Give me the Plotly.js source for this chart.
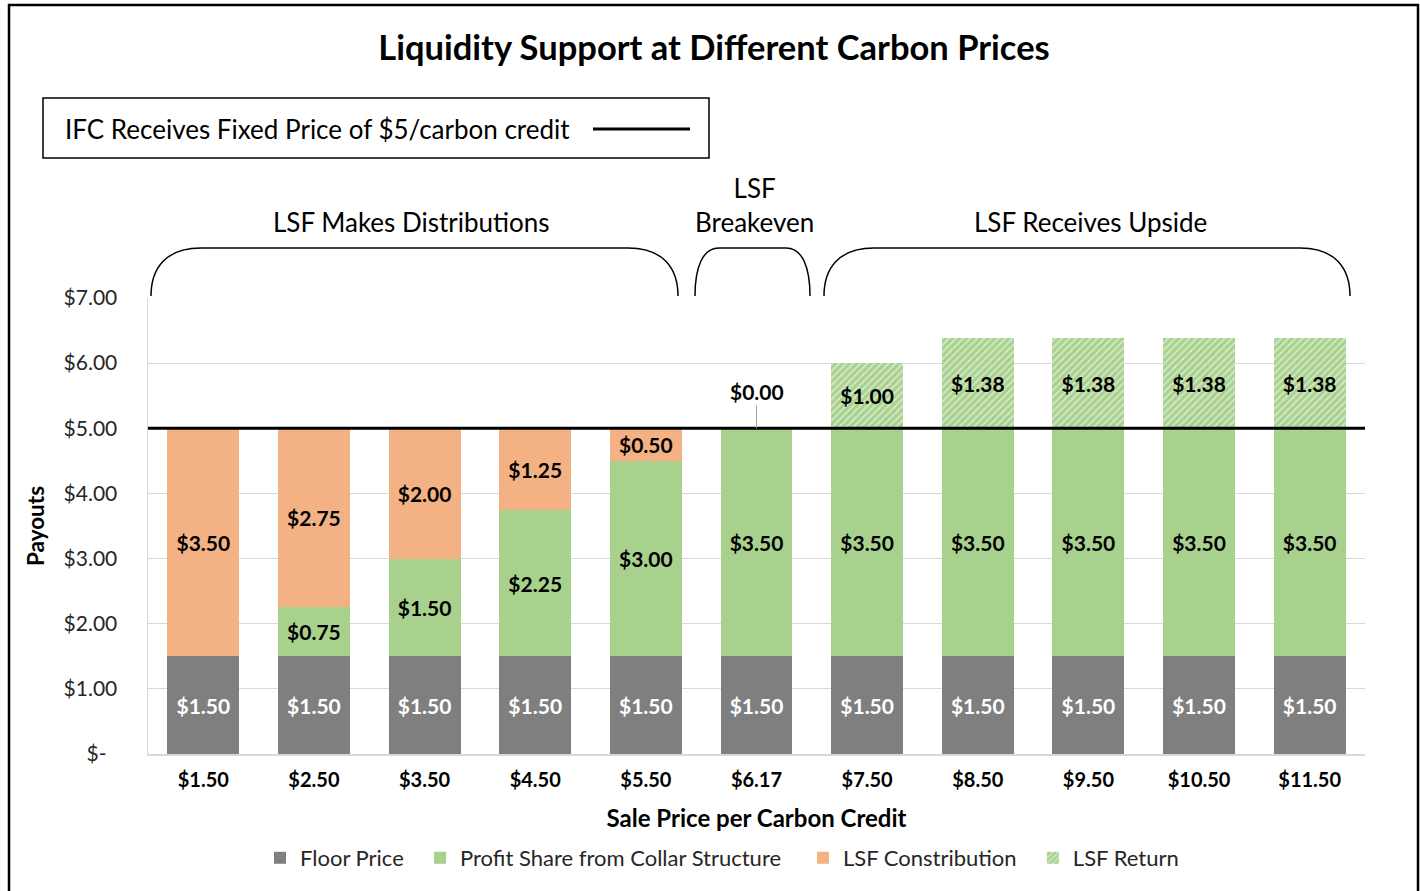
<!DOCTYPE html>
<html>
<head>
<meta charset="utf-8">
<script src="https://cdn.plot.ly/plotly-3.0.1.min.js"></script>
<style>
  html, body { margin: 0; padding: 0; background: #ffffff; }
  #chart { width: 1420px; height: 891px; }
</style>
</head>
<body>
<div id="chart"></div>
<script>
// ---- data ----
const categories = ["$1.50", "$2.50", "$3.50", "$4.50", "$5.50", "$6.17", "$7.50", "$8.50", "$9.50", "$10.50", "$11.50"];
const floorPrice   = [1.50, 1.50, 1.50, 1.50, 1.50, 1.50, 1.50, 1.50, 1.50, 1.50, 1.50];
const profitShare  = [0.00, 0.75, 1.50, 2.25, 3.00, 3.50, 3.50, 3.50, 3.50, 3.50, 3.50];
const lsfContrib   = [3.50, 2.75, 2.00, 1.25, 0.50, 0.00, 0.00, 0.00, 0.00, 0.00, 0.00];
const lsfReturn    = [0.00, 0.00, 0.00, 0.00, 0.00, 0.00, 1.00, 1.38, 1.38, 1.38, 1.38];
const seriesNames  = ["Floor Price", "Profit Share from Collar Structure", "LSF Constribution", "LSF Return"];
const yTickVals    = [0, 1, 2, 3, 4, 5, 6, 7];
const yTickText    = ["$-\u00a0\u00a0", "$1.00", "$2.00", "$3.00", "$4.00", "$5.00", "$6.00", "$7.00"];
const ifcFixedPrice = 5;
const breakevenIndex = 5;

// ---- helpers ----
const FONT = "Lato, 'Open Sans', sans-serif";
const L = 148, R = 1365, T = 298, B = 754;
const px = x => (x - L) / (R - L);
const py = y => (B - y) / (B - T);
const money = v => "$" + v.toFixed(2);
const lbl = arr => arr.map(v => v > 0 ? money(v) : "");
const pad = n => "\u00a0".repeat(n);

const COL_GRAY = "#7f7f7f", COL_GREEN = "#a9d18e", COL_ORANGE = "#f4b183";
const LABEL_FONT = c => ({ family: FONT, size: 21, color: c, weight: "bold" });

const common = {
  type: "bar", x: categories, textposition: "inside", insidetextanchor: "middle",
  textangle: 0, constraintext: "none", hoverinfo: "skip", cliponaxis: false
};

const traces = [
  Object.assign({}, common, {
    name: seriesNames[0] + pad(2), y: floorPrice, text: lbl(floorPrice),
    marker: { color: COL_GRAY }, textfont: LABEL_FONT("#ffffff")
  }),
  Object.assign({}, common, {
    name: seriesNames[1] + pad(3), y: profitShare, text: lbl(profitShare),
    marker: { color: COL_GREEN }, textfont: LABEL_FONT("#000000")
  }),
  Object.assign({}, common, {
    name: seriesNames[2] + pad(2), y: lsfContrib, text: lbl(lsfContrib),
    marker: { color: COL_ORANGE }, textfont: LABEL_FONT("#000000")
  }),
  Object.assign({}, common, {
    name: seriesNames[3], y: lsfReturn, text: lbl(lsfReturn),
    marker: { color: COL_GREEN, pattern: { shape: "/", fgcolor: "#ffffff", bgcolor: COL_GREEN, size: 5, solidity: 0.35, fillmode: "overlay" } },
    textfont: LABEL_FONT("#000000")
  })
];

// bracket path helper (pixel coords -> paper coords)
function bracket(x0, x1, r) {
  const yb = 296, yt = 248;
  const P = (x, y) => px(x).toFixed(5) + "," + py(y).toFixed(5);
  return "M" + P(x0, yb) +
    " C" + P(x0, yt + 20) + " " + P(x0 + r * 0.3, yt) + " " + P(x0 + r, yt) +
    " L" + P(x1 - r, yt) +
    " C" + P(x1 - r * 0.3, yt) + " " + P(x1, yt + 20) + " " + P(x1, yb);
}

const shapes = [
  // outer chart border
  { type: "rect", xref: "paper", yref: "paper", x0: px(9), x1: px(1418), y0: py(920), y1: py(5),
    line: { color: "#000000", width: 2.5 }, layer: "above" },
  // IFC box
  { type: "rect", xref: "paper", yref: "paper", x0: px(43), x1: px(709), y0: py(158), y1: py(98),
    line: { color: "#000000", width: 1.5 } },
  // IFC legend line sample
  { type: "line", xref: "paper", yref: "paper", x0: px(593), x1: px(690), y0: py(129), y1: py(129),
    line: { color: "#000000", width: 3 } },
  // $5 fixed price line
  { type: "line", xref: "paper", yref: "y", x0: 0, x1: 1, y0: ifcFixedPrice, y1: ifcFixedPrice,
    line: { color: "#000000", width: 3 }, layer: "above" },
  // brackets
  { type: "path", xref: "paper", yref: "paper", path: bracket(151, 678, 50), line: { color: "#000000", width: 1.5 } },
  { type: "path", xref: "paper", yref: "paper", path: bracket(695, 810, 24), line: { color: "#000000", width: 1.5 } },
  { type: "path", xref: "paper", yref: "paper", path: bracket(824, 1350, 50), line: { color: "#000000", width: 1.5 } }
];

const annFont = { family: FONT, size: 26, color: "#000000" };
const annotations = [
  { xref: "paper", yref: "paper", x: px(63), y: py(129), xanchor: "left", yanchor: "middle",
    text: "IFC Receives Fixed Price of $5/carbon credit", showarrow: false, font: annFont },
  { xref: "paper", yref: "paper", x: px(411), y: py(222), xanchor: "center", yanchor: "middle",
    text: "LSF Makes Distributions", showarrow: false, font: annFont },
  { xref: "paper", yref: "paper", x: px(754), y: py(205), xanchor: "center", yanchor: "middle",
    text: "LSF<br>Breakeven", showarrow: false, font: annFont },
  { xref: "paper", yref: "paper", x: px(1090), y: py(222), xanchor: "center", yanchor: "middle",
    text: "LSF Receives Upside", showarrow: false, font: annFont },
  // breakeven LSF return label with leader line
  { xref: "x", yref: "y", x: categories[breakevenIndex], y: ifcFixedPrice,
    text: money(lsfReturn[breakevenIndex]), showarrow: true, arrowhead: 0, arrowwidth: 1,
    arrowcolor: "#a6a6a6", ax: 0, ay: -37, standoff: 0,
    font: { family: FONT, size: 21, color: "#000000", weight: "bold" } }
];

const layout = {
  width: 1420, height: 891,
  margin: { l: L, r: 1420 - R, t: T, b: 891 - B, pad: 0 },
  paper_bgcolor: "#ffffff", plot_bgcolor: "#ffffff",
  barmode: "stack", bargap: 0.35,
  font: { family: FONT, color: "#000000" },
  title: { text: "<b>Liquidity Support at Different Carbon Prices</b>", x: 714 / 1420, xanchor: "center",
    y: 1 - 48 / 891, yanchor: "middle", font: { family: FONT, size: 34.5, color: "#000000" } },
  xaxis: {
    type: "category", showgrid: false, showline: true, linecolor: "#d9d9d9", linewidth: 1.5,
    ticks: "", ticklabelstandoff: 7,
    tickfont: { family: FONT, size: 20, color: "#000000", weight: "bold" },
    title: { text: "<b>Sale Price per Carbon Credit</b>", standoff: 20, font: { family: FONT, size: 24, color: "#000000" } },
    fixedrange: true
  },
  yaxis: {
    range: [0, 7], tickvals: yTickVals, ticktext: yTickText, showgrid: true, gridcolor: "#d9d9d9", gridwidth: 1.2,
    showline: true, linecolor: "#d9d9d9", linewidth: 1.5, zeroline: false, ticks: "", ticklabelstandoff: 25,
    tickfont: { family: FONT, size: 21, color: "#262626" },
    title: { text: "<b>Payouts</b>", standoff: 12, font: { family: FONT, size: 22.5, color: "#000000" } },
    fixedrange: true
  },
  showlegend: true,
  legend: {
    orientation: "h", traceorder: "normal", x: px(260), xanchor: "left", y: py(858), yanchor: "middle",
    font: { family: FONT, size: 22, color: "#262626" }, bgcolor: "rgba(0,0,0,0)", itemclick: false, itemdoubleclick: false
  },
  shapes: shapes,
  annotations: annotations
};

Plotly.newPlot("chart", traces, layout, { displayModeBar: false, staticPlot: true });
</script>
</body>
</html>
